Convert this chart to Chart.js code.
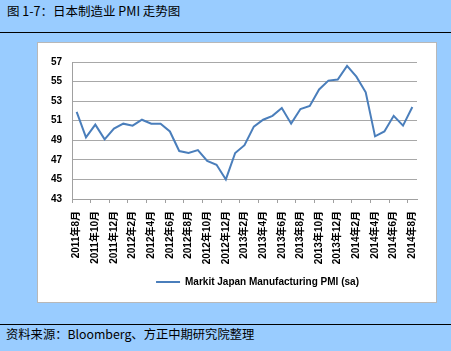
<!DOCTYPE html>
<html>
<head>
<meta charset="utf-8">
<script src="https://cdn.jsdelivr.net/npm/chart.js@4"></script>
<style>
  body { margin: 0; width: 451px; height: 351px; background: #99ccff; position: relative; overflow: hidden;
         font-family: "Noto Sans CJK SC", "Liberation Sans", sans-serif; }
  .title { position: absolute; left: 7px; top: 1px; font-size: 12.5px; color: #000; }
  .rule { position: absolute; left: 0; width: 451px; height: 1px; background: #000; }
  .box { position: absolute; left: 37px; top: 42px; width: 398px; height: 259px; background: #fff; border: 1px solid #b8b8b8; }
  .note { position: absolute; left: 6px; top: 325px; font-size: 12.3px; color: #000; }
</style>
</head>
<body>
<div class="title">图 1-7：日本制造业 PMI 走势图</div>
<div class="rule" style="top:32px"></div>
<div class="box"><canvas id="pmiChart" width="398" height="259"></canvas></div>
<div class="rule" style="top:324px"></div>
<div class="note">资料来源：Bloomberg、方正中期研究院整理</div>
<script>
// Japan manufacturing PMI, monthly
const months = [
  '2011年8月', '2011年9月', '2011年10月', '2011年11月', '2011年12月',
  '2012年1月', '2012年2月', '2012年3月', '2012年4月', '2012年5月', '2012年6月',
  '2012年7月', '2012年8月', '2012年9月', '2012年10月', '2012年11月', '2012年12月',
  '2013年1月', '2013年2月', '2013年3月', '2013年4月', '2013年5月', '2013年6月',
  '2013年7月', '2013年8月', '2013年9月', '2013年10月', '2013年11月', '2013年12月',
  '2014年1月', '2014年2月', '2014年3月', '2014年4月', '2014年5月', '2014年6月',
  '2014年7月', '2014年8月'
];
const pmi = [
  51.9, 49.3, 50.6, 49.1, 50.2,
  50.7, 50.5, 51.1, 50.7, 50.7, 49.9,
  47.9, 47.7, 48.0, 46.9, 46.5, 45.0,
  47.7, 48.5, 50.4, 51.1, 51.5, 52.3,
  50.7, 52.2, 52.5, 54.2, 55.1, 55.2,
  56.6, 55.5, 53.9, 49.4, 49.9, 51.5,
  50.5, 52.4
];
const yTicks = [43, 45, 47, 49, 51, 53, 55, 57];

const tickFont = { family: "'Liberation Sans', 'Noto Sans CJK SC', sans-serif", size: 10, weight: 'bold' };

// the legend sits a bit right of centre in the original
const legendShift = {
    id: 'legendShift',
    afterLayout(chart) {
        if (chart.legend) {
            chart.legend.left += 30;
            chart.legend.right += 30;
        }
    }
};

const ctx = document.getElementById('pmiChart').getContext('2d');
new Chart(ctx, {
    type: 'line',
    data: {
        labels: months,
        datasets: [{
            label: 'Markit Japan Manufacturing PMI (sa)',
            data: pmi,
            borderColor: '#4a7ebb',
            borderWidth: 2,
            pointRadius: 0,
            tension: 0,
            fill: false
        }]
    },
    plugins: [legendShift],
    options: {
        responsive: false,
        animation: false,
        layout: { padding: { top: 19, right: 19, left: 0, bottom: 5 } },
        plugins: {
            legend: {
                position: 'bottom',
                labels: {
                    usePointStyle: true,
                    pointStyle: 'line',
                    pointStyleWidth: 24,
                    color: '#000',
                    font: tickFont,
                    padding: 10
                }
            },
            tooltip: { enabled: false }
        },
        scales: {
            x: {
                offset: true,
                grid: {
                    display: true,
                    drawOnChartArea: false,
                    color: c => (c.index % 2 === 0 ? '#a0a0a0' : 'rgba(0,0,0,0)'),
                    tickLength: 4,
                    offset: true
                },
                border: { color: '#a0a0a0' },
                ticks: {
                    autoSkip: false,
                    maxRotation: 90,
                    minRotation: 90,
                    padding: 8,
                    color: '#000',
                    font: tickFont,
                    callback: function (v, i) { return i % 2 === 0 ? months[i] : ''; }
                },
                afterFit: function (s) { s.height = 68; }
            },
            y: {
                min: 43,
                max: 57,
                afterBuildTicks: function (s) { s.ticks = yTicks.map(v => ({ value: v })); },
                grid: { color: '#a8a8a8', drawTicks: false },
                border: { color: '#a0a0a0' },
                ticks: { padding: 10, color: '#000', font: tickFont },
                afterFit: function (s) { s.width = 34; }
            }
        }
    }
});
</script>
</body>
</html>
